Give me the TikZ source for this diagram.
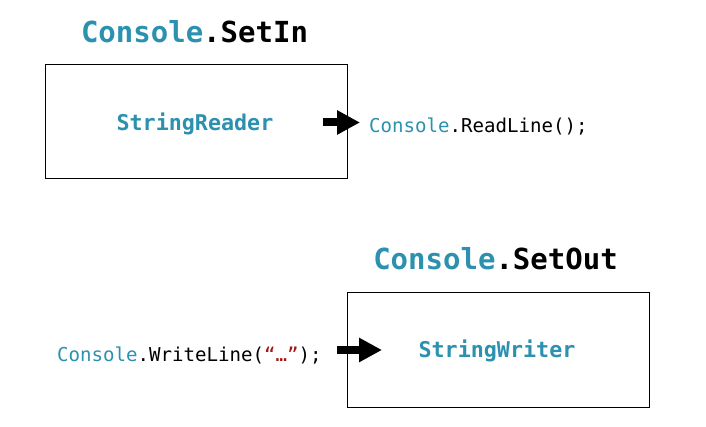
\documentclass[tikz,border=0pt]{standalone}
\usepackage{fontspec}
\setmonofont{DejaVu Sans Mono}
\usetikzlibrary{arrows.meta}
\definecolor{typeteal}{HTML}{2B91AF}
\definecolor{strred}{HTML}{A31515}
\begin{document}
\begin{tikzpicture}[x=1pt,y=1pt,
  frame/.style={draw=black,line width=1pt,minimum width=302pt,minimum height=114pt,inner sep=0pt},
  title/.style={font=\ttfamily\bfseries\fontsize{29}{32}\selectfont,inner sep=0pt,anchor=base},
  cls/.style={font=\ttfamily\bfseries\fontsize{21.7}{24}\selectfont,text=typeteal,inner sep=0pt,anchor=base},
  code/.style={font=\ttfamily\fontsize{19.1}{22}\selectfont,inner sep=0pt,anchor=base west},
  bigarrow/.style={line width=8pt,-{Triangle[length=23pt,width=23pt]}}]
\useasboundingbox[fill=white] (0,0) rectangle (706,427);
% boxes
\node[frame] (inbox) at (196,305) {};
\node[frame,minimum height=115pt] (outbox) at (498,76.5) {};
% titles
\node[title] (setin) at (194.5,384) {\textcolor{typeteal}{Console}.SetIn};
\node[title] (setout) at (495.5,157) {\textcolor{typeteal}{Console}.SetOut};
% class names
\node[cls] (reader) at (195,296) {StringReader};
\node[cls] (writer) at (497,69) {StringWriter};
% code
\node[code] (readline) at (369,294) {\textcolor{typeteal}{Console}.ReadLine();};
\node[code] (writeline) at (57,65) {\textcolor{typeteal}{Console}.WriteLine(\textcolor{strred}{“…”});};
% arrows
\coordinate (a1s) at (323,304.5);
\coordinate (a1e) at (360,304.5);
\coordinate (a2s) at (337,77);
\coordinate (a2e) at (382,77);
\draw[bigarrow] (a1s) -- (a1e);
\draw[bigarrow] (a2s) -- (a2e);
\end{tikzpicture}
\end{document}
